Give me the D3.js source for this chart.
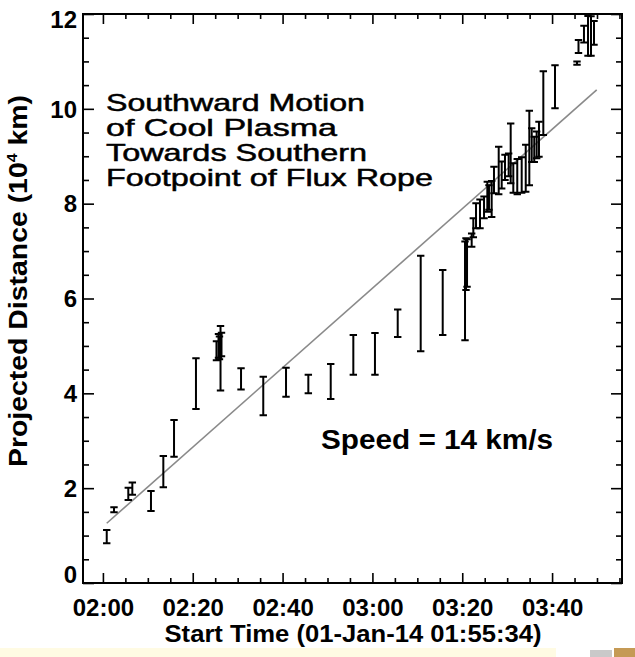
<!DOCTYPE html>
<html><head><meta charset="utf-8">
<script src="https://cdn.jsdelivr.net/npm/d3@7"></script>
<style>body{margin:0;background:#fff}svg{display:block}</style>
</head><body><svg id="c" width="635" height="657"></svg>
<script>
// ---- data ----
const startTime = "01:55:34";
const endTime = "03:55:34";
const obsTimes = ["02:00:51","02:02:28","02:05:39","02:06:33","02:10:42","02:13:27","02:15:50","02:20:43",
  "02:25:17","02:25:44","02:25:57","02:26:11","02:26:24","02:30:45","02:35:42","02:40:46","02:45:44",
  "02:50:43","02:55:45","03:00:34","03:05:38","03:10:45","03:15:39","03:20:37","03:20:50","03:21:04",
  "03:22:06","03:22:28","03:23:04","03:23:57","03:24:51","03:25:35","03:25:57","03:26:33","03:27:04",
  "03:28:07","03:28:47","03:29:31","03:30:20","03:30:47","03:31:22","03:32:15","03:33:14","03:34:08",
  "03:34:56","03:35:28","03:36:02","03:36:34","03:37:05","03:38:03","03:40:39","03:45:33","03:45:53",
  "03:47:06","03:48:00","03:48:40","03:49:20"];
const upperVals = [1.12,1.60,2.01,2.12,1.94,2.68,3.44,4.74,
  5.10,5.25,5.20,5.42,5.28,4.53,4.35,4.54,4.39,
  4.62,5.23,5.27,5.77,6.90,6.60,7.20,7.27,7.25,
  7.37,7.69,8.01,8.09,8.15,8.46,8.39,8.48,8.78,
  9.20,8.89,9.03,9.06,9.69,8.85,8.94,8.98,9.24,
  9.96,9.59,9.41,9.52,9.73,10.79,10.92,11.00,11.45,
  11.75,11.96,11.95,11.85];
const lowerVals = [0.84,1.49,1.75,1.86,1.52,2.02,2.66,3.67,
  4.70,4.75,4.72,4.06,4.78,4.08,3.54,3.93,4.00,
  3.88,4.39,4.39,5.19,4.89,5.23,5.12,6.18,6.25,
  7.09,7.29,7.48,7.48,7.69,7.83,7.87,7.72,8.22,
  8.20,8.32,8.50,8.58,8.43,8.23,8.20,8.23,8.25,
  8.39,8.88,8.88,8.96,8.99,9.45,10.01,10.93,11.18,
  11.40,11.12,11.12,11.35];
const fitTimes = ["02:00:51","03:49:56"];
const fitVals = [1.26, 10.40];
const xTickLabels = ["02:00","02:20","02:40","03:00","03:20","03:40"];
const yTickVals = [0,2,4,6,8,10,12];
const noteLines = ["Southward Motion","of Cool Plasma","Towards Southern","Footpoint of Flux Rope"];
const speedLabel = "Speed = 14 km/s";
const xTitle = "Start Time (01-Jan-14 01:55:34)";

// ---- layout ----
const L = 83, R = 622, T = 14, B = 583;
const FONT = "'Liberation Sans', Arial, Helvetica, sans-serif";
const svg = d3.select("#c");
const parseT = d3.timeParse("%H:%M:%S");
const parseHM = d3.timeParse("%H:%M");
const x = d3.scaleTime().domain([parseT(startTime), parseT(endTime)]).range([L, R]);
const y = d3.scaleLinear().domain([0, 12]).range([B, T]);

svg.append("rect").attr("width",635).attr("height",657).attr("fill","#fff");

// bottom strip
svg.append("rect").attr("x",0).attr("y",648).attr("width",556).attr("height",9).attr("fill","#fffbe3");
svg.append("rect").attr("x",590).attr("y",650).attr("width",22).attr("height",7).attr("fill","#c9c9c9");
svg.append("rect").attr("x",614).attr("y",648).attr("width",21).attr("height",9).attr("fill","#c59a55");

svg.append("clipPath").attr("id","clip").append("rect")
  .attr("x",L).attr("y",T).attr("width",R-L).attr("height",B-T);

const majorX = xTickLabels.map(parseHM);
const minorX = d3.timeMinute.every(5).range(parseT(startTime), parseT(endTime)).filter(d => d.getMinutes() % 20 !== 0);
const minorY = d3.range(0.5, 12, 0.5).filter(v => v % 2 !== 0);

function styleAxis(g){
  g.select(".domain").remove();
  g.selectAll("line").attr("stroke","#000").attr("stroke-width",1.6);
  g.selectAll("text").attr("font-family",FONT).attr("font-weight","bold").attr("font-size",24).attr("fill","#000");
}
// bottom
svg.append("g").attr("transform",`translate(0,${B})`)
  .call(d3.axisBottom(x).tickValues(majorX).tickSizeInner(-10).tickSizeOuter(0).tickPadding(16).tickFormat(d3.timeFormat("%H:%M")))
  .call(styleAxis);
svg.append("g").attr("transform",`translate(0,${B})`)
  .call(d3.axisBottom(x).tickValues(minorX).tickSizeInner(-5).tickSizeOuter(0).tickFormat(""))
  .call(styleAxis);
// top
svg.append("g").attr("transform",`translate(0,${T})`)
  .call(d3.axisTop(x).tickValues(majorX).tickSizeInner(-10).tickSizeOuter(0).tickFormat(""))
  .call(styleAxis);
svg.append("g").attr("transform",`translate(0,${T})`)
  .call(d3.axisTop(x).tickValues(minorX).tickSizeInner(-5).tickSizeOuter(0).tickFormat(""))
  .call(styleAxis);
// left
const gl = svg.append("g").attr("transform",`translate(${L},0)`)
  .call(d3.axisLeft(y).tickValues(yTickVals).tickSizeInner(-11).tickSizeOuter(0).tickPadding(6).tickFormat(d3.format("d")))
  .call(styleAxis);
gl.selectAll(".tick text").attr("dy", d => d === 0 ? "-0.04em" : d === 12 ? "0.55em" : "0.34em");
svg.append("g").attr("transform",`translate(${L},0)`)
  .call(d3.axisLeft(y).tickValues(minorY).tickSizeInner(-6).tickSizeOuter(0).tickFormat(""))
  .call(styleAxis);
// right
svg.append("g").attr("transform",`translate(${R},0)`)
  .call(d3.axisRight(y).tickValues(yTickVals).tickSizeInner(-11).tickSizeOuter(0).tickFormat(""))
  .call(styleAxis);
svg.append("g").attr("transform",`translate(${R},0)`)
  .call(d3.axisRight(y).tickValues(minorY).tickSizeInner(-6).tickSizeOuter(0).tickFormat(""))
  .call(styleAxis);

// frame
svg.append("rect").attr("x",L).attr("y",T).attr("width",R-L).attr("height",B-T)
  .attr("fill","none").attr("stroke","#000").attr("stroke-width",2);

// fit line
const plot = svg.append("g").attr("clip-path","url(#clip)");
plot.append("path")
  .datum(fitTimes.map((t,i)=>({t:parseT(t), v:fitVals[i]})))
  .attr("d", d3.line().x(d=>x(d.t)).y(d=>y(d.v)))
  .attr("stroke","#8a8a8a").attr("stroke-width",1.6).attr("fill","none");

// error bars
const bars = obsTimes.map((t,i)=>({t:parseT(t), hi:upperVals[i], lo:lowerVals[i]}));
const cap = 3.7;
const eb = plot.append("g").attr("stroke","#000").attr("stroke-width",2).attr("fill","none");
eb.selectAll("path.bar").data(bars).join("path").attr("class","bar")
  .attr("d", d => {
    const cx = x(d.t), y1 = y(d.hi), y0 = y(d.lo);
    return `M${cx},${y1}V${y0}M${cx-cap},${y1}H${cx+cap}M${cx-cap},${y0}H${cx+cap}`;
  });

// annotation
const noteBase = [111, 136, 161, 186];
const noteLen = [259, 231, 261, 327];
svg.append("g").selectAll("text").data(noteLines).join("text")
  .attr("x",106).attr("y",(d,i)=>noteBase[i])
  .attr("textLength",(d,i)=>noteLen[i]).attr("lengthAdjust","spacingAndGlyphs")
  .attr("font-family",FONT).attr("font-size",24).attr("fill","#000")
  .attr("stroke","#000").attr("stroke-width",0.5).text(d=>d);

svg.append("text").attr("x",321).attr("y",449)
  .attr("textLength",232).attr("lengthAdjust","spacingAndGlyphs")
  .attr("font-family",FONT).attr("font-weight","bold").attr("font-size",27).attr("fill","#000").text(speedLabel);

// axis titles
svg.append("text").attr("x",353).attr("y",642).attr("text-anchor","middle")
  .attr("textLength",377).attr("lengthAdjust","spacingAndGlyphs")
  .attr("font-family",FONT).attr("font-weight","bold").attr("font-size",24).attr("fill","#000").text(xTitle);

const yt = svg.append("text").attr("transform","translate(27,281) rotate(-90)").attr("text-anchor","middle")
  .attr("textLength",372).attr("lengthAdjust","spacingAndGlyphs")
  .attr("font-family",FONT).attr("font-weight","bold").attr("font-size",25).attr("fill","#000");
yt.append("tspan").text("Projected Distance (10");
yt.append("tspan").attr("font-size",14).attr("dy",-10).text("4");
yt.append("tspan").attr("dy",10).text(" km)");
</script></body></html>
